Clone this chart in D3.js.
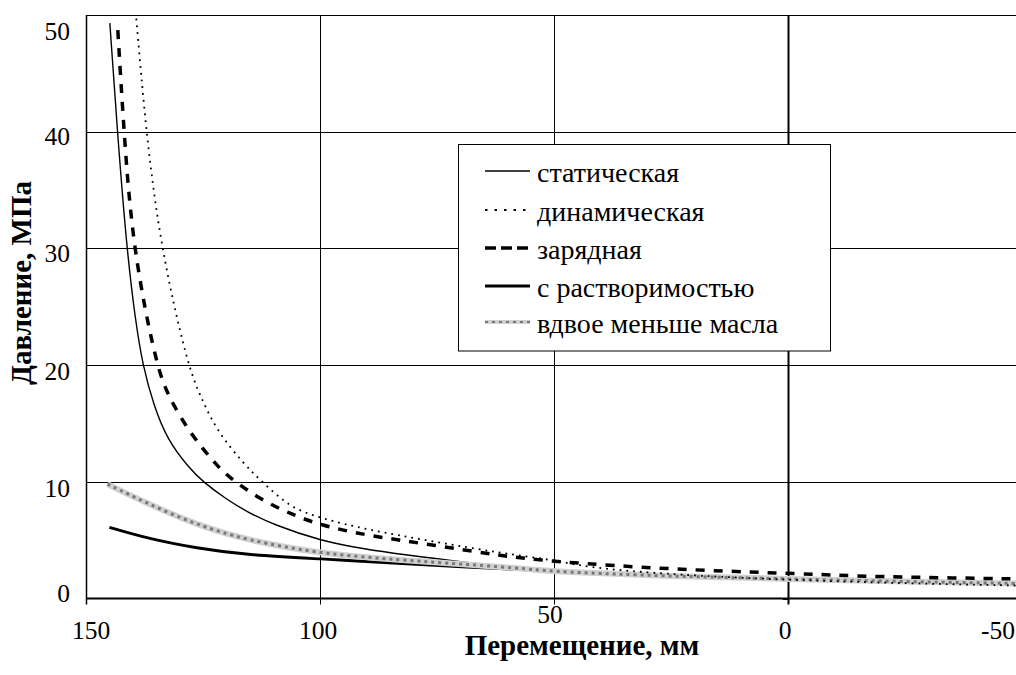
<!DOCTYPE html>
<html><head><meta charset="utf-8">
<script src="https://cdn.jsdelivr.net/npm/d3@7"></script>
<style>body{margin:0;background:#fff}svg{display:block}</style>
</head><body>
<svg id="c" width="1016" height="675"></svg>
<script>
// ---- data ----
const xTicks = [150, 100, 50, 0, -50];
const yTicks = [0, 10, 20, 30, 40, 50];
const seriesNames = ["статическая", "динамическая", "зарядная", "с растворимостью", "вдвое меньше масла"];
const staticCurve = [[144.9,49.3],[143.3,40],[141.3,30],[139.5,24],[137.9,20],[135.5,16.5],[132.6,13.6],[128,11.2],[125,10],[120,8.5],[115,7.3],[110,6.35],[100,4.95],[90,4.2],[82.9,3.8],[68.6,3.07],[54.4,2.5],[50,2.35],[25,1.93],[0,1.68],[-25,1.44],[-50,1.28]];
const dynamicCurve = [[139.8,52],[139.3,50],[137.2,40],[134,30],[128.3,20],[125.5,17.3],[122.1,14.4],[116.4,11.6],[112.4,10],[107.1,8.1],[104,7.5],[100,6.9],[90,5.9],[76,4.9],[61.5,3.9],[50,3.3],[45,2.85],[38,2.5],[32,2.3],[20,1.95],[0,1.6],[-20,1.35],[-50,1.1]];
const chargeCurve = [[143.2,48.7],[141.9,40],[140,30],[135,20],[132.4,17.3],[127.8,14.2],[123.1,11.9],[119.9,10.5],[112.8,8.5],[106,7.2],[100,6.3],[90,5.4],[75.7,4.58],[61.5,3.67],[50,3.15],[25,2.5],[0,2.16],[-10,2.0],[-20,1.87],[-35,1.76],[-50,1.68]];
const solubilityCurve = [[145,6.1],[137,5.16],[126.3,4.3],[115.6,3.73],[100,3.4],[82.9,3.0],[68.6,2.67],[54.4,2.44],[50,2.3],[25,1.9],[0,1.66],[-25,1.42],[-50,1.27]];
const halfOilCurve = [[145.4,9.8],[137,8.16],[126.3,6.3],[115.6,5.0],[100,3.85],[82.9,3.3],[68.6,2.93],[54.4,2.5],[50,2.3],[25,1.9],[0,1.68],[-25,1.44],[-50,1.28]];

// ---- layout ----
const FONT = "'Liberation Serif', 'Times New Roman', serif";
const svg = d3.select("#c");
const L = 86, R = 1021.6, T = 15, B = 598.5;
const x = d3.scaleLinear().domain([150, -50]).range([L, R]);
const y = d3.scaleLinear().domain([0, 50]).range([B, T]);

svg.append("defs").append("clipPath").attr("id","clip")
  .append("rect").attr("x", L).attr("y", T).attr("width", R - L).attr("height", B - T);

// gridlines and axes
const g = svg.append("g");
g.selectAll(".hg").data(yTicks.filter(d => d > 0)).join("line")
  .attr("x1", L).attr("x2", R).attr("y1", d => Math.round(y(d)) + 0.5).attr("y2", d => Math.round(y(d)) + 0.5)
  .attr("stroke", "#000").attr("stroke-width", 1);
g.selectAll(".vg").data(xTicks).join("line")
  .attr("x1", d => Math.round(x(d)) + 0.5).attr("x2", d => Math.round(x(d)) + 0.5)
  .attr("y1", T).attr("y2", B + 6)
  .attr("stroke", "#000").attr("stroke-width", d => d === 0 ? 2 : (d === 150 ? 1.5 : 1));
g.selectAll(".yt").data(yTicks).join("line")
  .attr("x1", x(0) - 5).attr("x2", x(0)).attr("y1", d => Math.round(y(d)) + 0.5).attr("y2", d => Math.round(y(d)) + 0.5)
  .attr("stroke", "#000");
g.append("line").attr("x1", L).attr("x2", R).attr("y1", B).attr("y2", B).attr("stroke", "#000").attr("stroke-width", 2);

// tick labels
const yOff = {0: -6, 10: 6, 20: 6, 30: 5, 40: 4, 50: 16};
yTicks.forEach(d => {
  svg.append("text").attr("x", 70).attr("y", y(d) + yOff[d] + 9).attr("text-anchor", "end")
    .attr("font-size", 25.5).style("font-family", FONT).text(d);
});
const xPos = {150: 91, 100: 318, 50: 550, 0: 785, "-50": 1015};
xTicks.forEach(d => {
  svg.append("text").attr("x", xPos[d]).attr("y", (d === 50 ? 614 : 630) + 9)
    .attr("text-anchor", d === -50 ? "end" : "middle")
    .attr("font-size", 25.5).style("font-family", FONT).text(d);
});

// axis titles
svg.append("text").attr("x", 582).attr("y", 655).attr("text-anchor", "middle")
  .attr("font-size", 29).attr("font-weight", "bold").style("font-family", FONT).text("Перемещение, мм");
svg.append("text").attr("transform", "translate(31,283) rotate(-90)").attr("text-anchor", "middle")
  .attr("font-size", 29).attr("font-weight", "bold").style("font-family", FONT).text("Давление, МПа");

// series
const line = d3.line().x(d => x(d[0])).y(d => y(d[1])).curve(d3.curveBasis);
const plot = svg.append("g").attr("clip-path", "url(#clip)");
const styles = [
  {data: staticCurve, stroke: "#000", w: 1.4, dash: null, legendDash: null},
  {data: dynamicCurve, stroke: "#000", w: 1.8, dash: "1.8,5", legendDash: "2.5,7"},
  {data: chargeCurve, stroke: "#000", w: 3.5, dash: "9,9", legendDash: "11,5"},
  {data: solubilityCurve, stroke: "#000", w: 2.8, dash: null, legendDash: null},
  {data: halfOilCurve, stroke: "#d0d0d0", w: 6, dash: null, overlay: "#777", legendDash: null}
];
[0, 3, 4, 1, 2].forEach(i => {
  const s = styles[i];
  plot.append("path").attr("d", line(s.data)).attr("fill", "none").attr("stroke", s.stroke)
    .attr("stroke-width", s.w).attr("stroke-dasharray", s.dash).attr("stroke-linejoin", "round");
  if (s.overlay) plot.append("path").attr("d", line(s.data)).attr("fill", "none").attr("stroke", s.overlay)
    .attr("stroke-width", 3).attr("stroke-dasharray", "3,4");
});

// legend
const lg = svg.append("g");
lg.append("rect").attr("x", 458.5).attr("y", 144.5).attr("width", 372).attr("height", 206.5)
  .attr("fill", "#fff").attr("stroke", "#000").attr("stroke-width", 1);
const rowY = [175, 214, 252, 290, 326];
seriesNames.forEach((n, i) => {
  const s = styles[i];
  const ly = rowY[i] - 4;
  lg.append("line").attr("x1", 485).attr("x2", 530).attr("y1", ly).attr("y2", ly)
    .attr("stroke", s.stroke).attr("stroke-width", Math.min(s.w, 4)).attr("stroke-dasharray", s.legendDash);
  if (s.overlay) lg.append("line").attr("x1", 485).attr("x2", 530).attr("y1", ly).attr("y2", ly)
    .attr("stroke", s.overlay).attr("stroke-width", 2).attr("stroke-dasharray", "3,4");
  lg.append("text").attr("x", 537).attr("y", rowY[i] + 7)
    .attr("font-size", 28).style("font-family", FONT).text(n);
});
</script>
</body></html>
